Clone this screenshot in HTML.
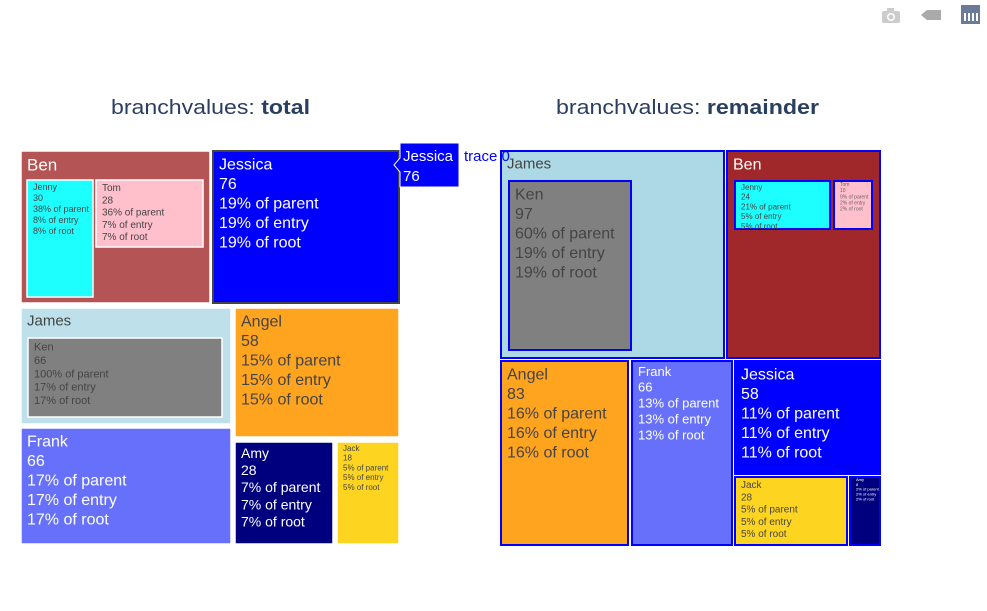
<!DOCTYPE html>
<html><head><meta charset="utf-8"><style>
html,body{margin:0;padding:0;background:#fff;width:987px;height:611px;overflow:hidden}
svg text{font-family:"Liberation Sans","DejaVu Sans",sans-serif}
</style></head><body>
<svg id="chart" width="987" height="611" xmlns="http://www.w3.org/2000/svg">
<g>
 <g><rect x="882" y="11" width="18" height="12" rx="2" fill="#ccc"/><rect x="887" y="8" width="7" height="4" fill="#ccc"/><circle cx="891" cy="17" r="4" fill="#fff"/><circle cx="891" cy="17" r="2.5" fill="#ccc"/></g>
 <path d="M921 15 L927 10 L941 10 L941 20 L927 20 Z" fill="#aaa"/>
 <g><rect x="961" y="5" width="19" height="19" fill="#6a7b99"/><rect x="964" y="13" width="2" height="8" fill="#fff"/><rect x="968" y="13" width="2" height="8" fill="#fff"/><rect x="972" y="13" width="2" height="8" fill="#fff"/><rect x="976" y="13" width="2" height="8" fill="#fff"/></g>
</g>
<text x="111" y="114" font-size="20" fill="#2a3f5f" textLength="199" lengthAdjust="spacingAndGlyphs">branchvalues: <tspan font-weight="bold">total</tspan></text>
<text x="556" y="114" font-size="20" fill="#2a3f5f" textLength="263" lengthAdjust="spacingAndGlyphs">branchvalues: <tspan font-weight="bold">remainder</tspan></text>
<g id="tiles"></g>
<g>
 <path d="M400 143 L459 143 L459 187 L400 187 L400 172 L394 165 L400 158 Z" fill="#0000ff" stroke="#fff"/>
 <text x="403" y="161" font-size="15" fill="#fff">Jessica</text>
 <text x="403" y="181" font-size="15" fill="#fff">76</text>
 <text x="464" y="161" font-size="15" fill="#0000ff">trace 0</text>
</g>
</svg>
<script>
// data
const leftLabels=["Ben","Jenny","Tom","Jessica","James","Ken","Angel","Frank","Amy","Jack"];
const leftValues=[80,30,28,76,66,66,58,66,28,18];
const leftParent=["","38% of parent","36% of parent","19% of parent","","100% of parent","15% of parent","17% of parent","7% of parent","5% of parent"];
const leftEntry=["","8%","7%","19%","","17%","15%","17%","7%","5%"];
const rightLabels=["James","Ken","Ben","Jenny","Tom","Angel","Frank","Jessica","Jack","Amy"];
const rightValues=[0,97,0,24,10,83,66,58,28,8];
const rightParent=["","60% of parent","","21% of parent","9% of parent","16% of parent","13% of parent","11% of parent","5% of parent","2% of parent"];
const rightEntry=["","19%","","5%","2%","16%","13%","11%","5%","2%"];
// layout (geometry, not data)
const L=[[21,151,210,303,"#b45454",0,17,"#fff"],[27,180,93,297,"#1dfefe",0,9,"#444"],[96,180,203,247,"#ffbfcb",0,10,"#444"],[213,151,399,303,"#0000ff",1,16,"#fff"],[21,308,231,424,"#bde0ea",0,15,"#444"],[28,338,222,417,"#808080",0,11,"#444"],[235,308,399,437,"#ffa41f",1,16,"#444"],[21,428,231,544,"#6670fa",1,16,"#fff"],[235,442,333,544,"#00007f",1,14,"#fff"],[337,442,399,544,"#fdd521",1,8,"#444"]];
const R=[[501,151,724,358,"#add8e6",0,15,"#444"],[509,181,631,350,"#808080",1,16,"#444"],[727,151,880,358,"#a0282b",0,16,"#fff"],[735,181,830,229,"#1dfefe",1,8,"#444"],[834,181,872,229,"#ffbfcb",1,5,"#666"],[501,361,628,545,"#ffa41f",1,16,"#444"],[632,361,732,545,"#6670fa",1,13,"#fff"],[735,361,880,474,"#0000ff",1,16,"#fff"],[735,477,847,545,"#fdd521",1,10,"#444"],[850,477,880,545,"#00007f",1,4,"#fff"]];
const g=document.getElementById('tiles');
const NS="http://www.w3.org/2000/svg";
function draw(labels,values,parents,entries,lay,side,stroke){
 labels.forEach((lab,i)=>{
  const [x0,y0,x1,y1,col,full,fs,tc]=lay[i];
  const grp=document.createElementNS(NS,'g');
  
  
  const r=document.createElementNS(NS,'rect');
  r.setAttribute('x',x0);r.setAttribute('y',y0);r.setAttribute('width',x1-x0);r.setAttribute('height',y1-y0);
  r.setAttribute('fill',col);
  let sc=stroke, sw=stroke=="#0000ff"?2:1.5;
  if(side=="left"&&lab=="Jessica"){sc="#444";sw=2;}
  r.setAttribute('stroke',sc);r.setAttribute('stroke-width',sw);
  grp.appendChild(r);
  const lines=[lab];
  if(parents[i]){lines.push(String(values[i]),parents[i],entries[i]+" of entry",entries[i]+" of root");}
  lines.forEach((t,k)=>{
   const tx=document.createElementNS(NS,'text');
   tx.setAttribute('x',x0+6);tx.setAttribute('y',y0-1+fs*(k+1)*1.22);
   tx.setAttribute('font-size',fs);tx.setAttribute('fill',tc);
   tx.textContent=t;grp.appendChild(tx);
  });
  g.appendChild(grp);
 });
}
draw(leftLabels,leftValues,leftParent,leftEntry,L,"left","#fff");
draw(rightLabels,rightValues,rightParent,rightEntry,R,"right","#0000ff");
</script>
</body></html>
